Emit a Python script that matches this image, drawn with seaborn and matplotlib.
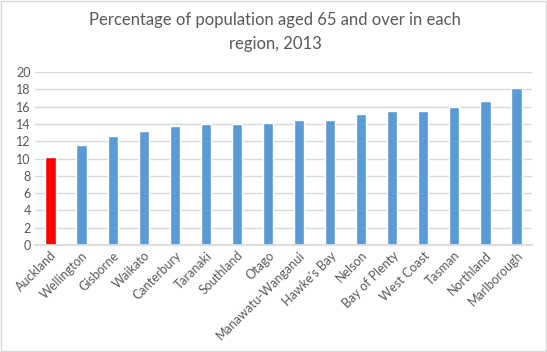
import matplotlib
matplotlib.use("Agg")
import matplotlib.pyplot as plt
import seaborn as sns
import pandas as pd

regions = ["Auckland", "Wellington", "Gisborne", "Waikato", "Canterbury", "Taranaki",
           "Southland", "Otago", "Manawatu-Wanganui", "Hawke's Bay", "Nelson",
           "Bay of Plenty", "West Coast", "Tasman", "Northland", "Marlborough"]
pct_65_over = [10.2, 11.6, 12.6, 13.2, 13.8, 14.0, 14.0, 14.1, 14.5, 14.5, 15.1,
               15.5, 15.5, 15.9, 16.7, 18.1]
highlight = "Auckland"

sns.set_theme(style="white")
plt.rcParams['font.family'] = ['Lato', 'DejaVu Sans']

df = pd.DataFrame({"region": regions, "pct": pct_65_over})
colors = ["#ff0000" if r == highlight else "#5b9bd5" for r in regions]

fig = plt.figure(figsize=(5.47, 3.52), dpi=100)
ax = fig.add_axes([35 / 547, 1 - 245 / 352, (532 - 35) / 547, (245 - 72) / 352])
sns.barplot(data=df, x="region", y="pct", hue="region", palette=colors,
            legend=False, width=0.33, ax=ax, saturation=1)

ax.set_ylim(0, 20)
ax.set_yticks(range(0, 21, 2))
ax.set_xlim(-0.5, len(regions) - 0.5)
ax.yaxis.grid(True, color="#d9d9d9", linewidth=1)
ax.set_axisbelow(True)
for s in ["top", "right", "left"]:
    ax.spines[s].set_visible(False)
ax.spines["bottom"].set_color("#d9d9d9")
ax.tick_params(axis="both", length=0, labelsize=9, colors="#595959", pad=3)
ax.set_xticks(range(len(regions)))
ax.set_xticklabels(regions, rotation=45, ha="right", rotation_mode="anchor")
ax.set_xlabel("")
ax.set_ylabel("")

fig.text(0.503, 1 - 32 / 352, "Percentage of population aged 65 and over in each\nregion, 2013",
         ha="center", va="center", fontsize=12, color="#595959", linespacing=1.6)

fig.patches.append(plt.Rectangle((0.001, 0.002), 0.997, 0.995, transform=fig.transFigure,
                                 fill=False, edgecolor="#d9d9d9", linewidth=1))

fig.savefig("out.png", dpi=100)
